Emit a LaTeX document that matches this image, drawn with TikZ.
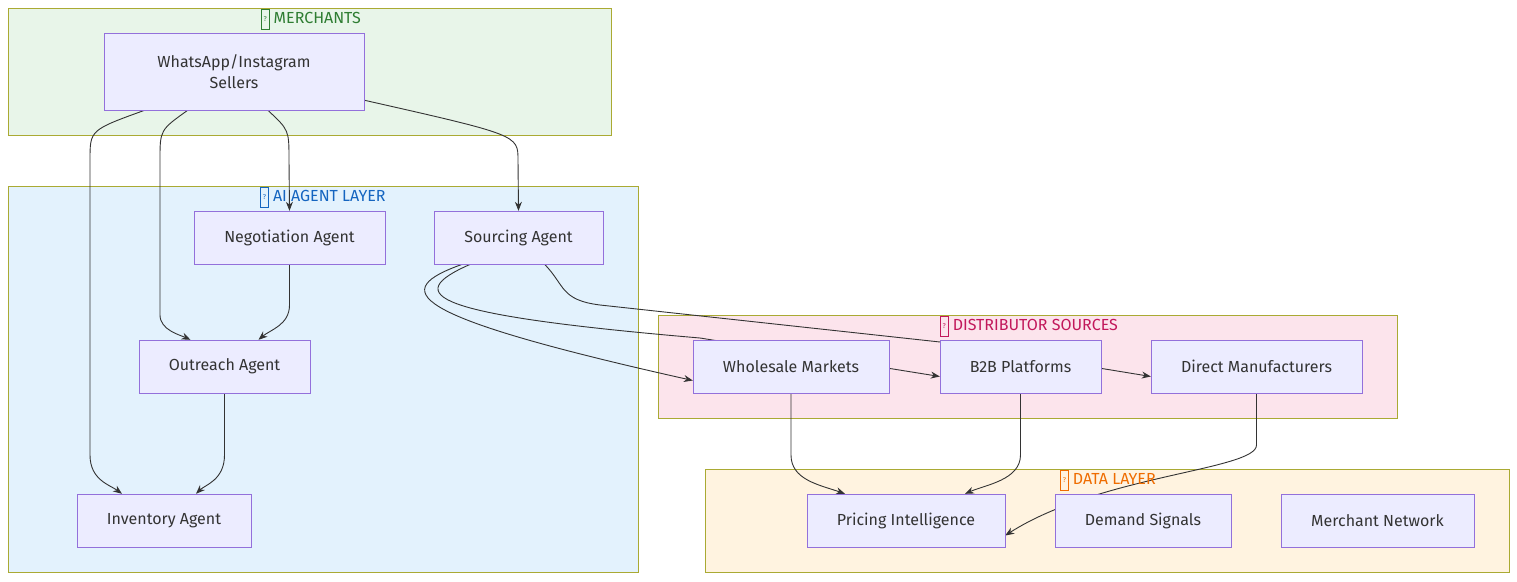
\documentclass[tikz,border=0pt]{standalone}
\usepackage{fontspec}
\setmainfont{Fira Sans}
\usetikzlibrary{arrows.meta}
\pgfdeclarelayer{back}
\pgfdeclarelayer{edges}
\pgfsetlayers{back,edges,main}
\definecolor{nodefill}{HTML}{ECECFF}
\definecolor{nodeline}{HTML}{9370DB}
\definecolor{grpline}{HTML}{AAAA33}
\tikzset{
  box/.style={draw=nodeline,fill=nodefill,minimum height=53pt,inner sep=0pt,text=black!80,align=center,font=\fontsize{16}{21}\selectfont},
  grp/.style={draw=grpline},
  ttl/.style={font=\fontsize{16}{19}\selectfont},
  link/.style={draw=black!80,line width=0.9pt,-{Stealth[length=9pt,width=7pt]}},
}
\newcommand{\qbox}[1]{\tikz[baseline=-0.5ex]\node[draw=#1,inner sep=1pt,minimum width=8pt,minimum height=20pt,font=\fontsize{7}{8}\selectfont]{?};}
\begin{document}
\begin{tikzpicture}[x=1pt,y=-1pt]
                \useasboundingbox (0,0) rectangle (1517,581);
                % groups
                \begin{pgfonlayer}{back}
                \draw[grp,fill={rgb,255:red,232;green,245;blue,233}] (8,8) rectangle (611,135);
                \draw[grp,fill={rgb,255:red,227;green,242;blue,253}] (8,186) rectangle (638,572);
                \draw[grp,fill={rgb,255:red,252;green,228;blue,236}] (658,315) rectangle (1397,418);
                \draw[grp,fill={rgb,255:red,255;green,243;blue,224}] (705,469) rectangle (1509,572);
                \end{pgfonlayer}
                \node[ttl,text={rgb,255:red,46;green,125;blue,50}] (tmerch) at (311,19) {\qbox{{rgb,255:red,46;green,125;blue,50}} MERCHANTS};
                \node[ttl,text={rgb,255:red,21;green,101;blue,192}] (tai) at (323,197) {\qbox{{rgb,255:red,21;green,101;blue,192}} AI AGENT LAYER};
                \node[ttl,text={rgb,255:red,194;green,24;blue,91}] (tdist) at (1029,326) {\qbox{{rgb,255:red,194;green,24;blue,91}} DISTRIBUTOR SOURCES};
                \node[ttl,text={rgb,255:red,239;green,108;blue,0}] (tdata) at (1108,480) {\qbox{{rgb,255:red,239;green,108;blue,0}} DATA LAYER};
                % nodes
                \node[box,minimum width=260pt,minimum height=77pt] (seller) at (234,71.5) {WhatsApp/Instagram\\Sellers};
                \node[box,minimum width=191pt] (nego) at (289.5,237.5) {Negotiation Agent};
                \node[box,minimum width=169pt] (src) at (518.5,237.5) {Sourcing Agent};
                \node[box,minimum width=171pt] (out) at (224.5,366.5) {Outreach Agent};
                \node[box,minimum width=174pt] (inv) at (164,520.5) {Inventory Agent};
                \node[box,minimum width=196pt] (whole) at (791,366.5) {Wholesale Markets};
                \node[box,minimum width=161pt] (b2b) at (1020.5,366.5) {B2B Platforms};
                \node[box,minimum width=211pt] (direct) at (1256.5,366.5) {Direct Manufacturers};
                \node[box,minimum width=198pt] (price) at (906,520.5) {Pricing Intelligence};
                \node[box,minimum width=176pt] (demand) at (1143,520.5) {Demand Signals};
                \node[box,minimum width=193pt] (mnet) at (1377.5,520.5) {Merchant Network};
                % edges
                \begin{pgfonlayer}{edges}
                \draw[link] (seller.south west)++(41,0) .. controls (90,130) .. (90,160) -- (90,455) .. controls (90,480) and (110,485) .. ([xshift=-42pt]inv.north);
                \draw[link] (seller.south west)++(84,0) .. controls (160,130) .. (160,160) -- (160,315) .. controls (160,330) and (180,335) .. ([xshift=-34pt]out.north);
                \draw[link] (seller.south west)++(164,0) .. controls (289,130) .. (289,160) -- (src.north -| nego.north);
                \draw[link] (seller.south east)++(0,-10) .. controls (518,135) .. (518,160) -- (src.north);
                \draw[link] (nego.south) -- (289.5,305) .. controls (289.5,325) and (270,330) .. ([xshift=34pt]out.north);
                \draw[link] (out.south) -- (224.5,455) .. controls (224.5,480) and (205,485) .. ([xshift=32pt]inv.north);
                \draw[link] ([xshift=-56pt]src.south) .. controls (390,290) and (400,315) .. ([yshift=-14pt]whole.west);
                \draw[link] ([xshift=-48pt]src.south) .. controls (400,295) and (430,315) .. (700,338) -- ([yshift=-10pt]b2b.west);
                \draw[link] ([xshift=26pt]src.south) .. controls (565,285) and (560,300) .. (600,305) -- (940,342) -- ([yshift=-10pt]direct.west);
                \draw[link] (whole.south) -- (791,455) .. controls (791,480) and (820,485) .. ([xshift=-61pt]price.north);
                \draw[link] (b2b.south) -- (1020.5,455) .. controls (1020.5,480) and (985,485) .. ([xshift=59pt]price.north);
                \draw[link] (direct.south) -- (1256.5,445) .. controls (1256.5,470) and (1100,475) .. ([yshift=-15pt]price.east);
                \end{pgfonlayer}
            \end{tikzpicture}
\end{document}
